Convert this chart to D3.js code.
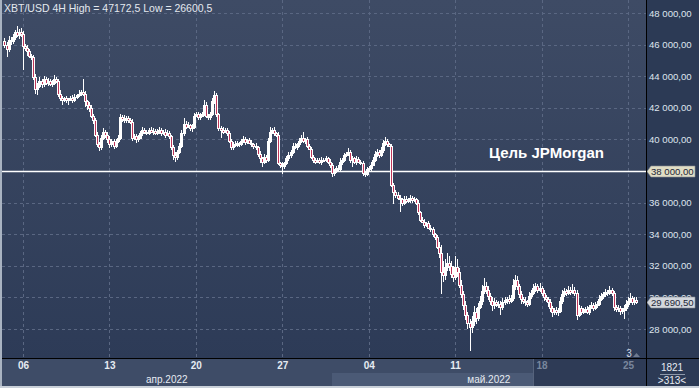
<!DOCTYPE html>
<meta charset="utf-8">
<style>
body { margin: 0; background: #2c3a55; }
svg { display: block; font-family: "Liberation Sans", Arial, sans-serif; }
</style>
<svg width="699" height="388"></svg>
<script src="https://d3js.org/d3.v7.min.js"></script>
<script>
// XBT/USD 4H candles, Apr 4 12:00 .. May 25 2022
var firstOpen = 46200;
var closes = [
  46000, 45700, 46300, 46200, 46500, 46800, 46600, 46800, 46700, 45900,
  45800, 45600, 45300, 45200, 43950, 43200, 43400, 43700, 43500, 43800,
  43600, 43700, 43500, 43600, 43800, 43700, 42900, 42600, 42500, 42600,
  42500, 42550, 42600, 42500, 42700, 42800, 42900, 43000, 42900, 42400,
  42200, 42000, 41500, 41200, 40300, 39700, 39500, 40100, 40500, 40300,
  40000, 39700, 39900, 39600, 39900, 40100, 41400, 41300, 41200, 41350,
  41250, 41100, 40100, 40200, 40000, 40100, 40400, 40600, 40500, 40400,
  40600, 40500, 40550, 40400, 40500, 40600, 40400, 40500, 40300, 40400,
  40200, 39500, 39000, 38900, 39200, 39600, 40400, 41000, 40800, 40900,
  40700, 40800, 41500, 41600, 41400, 41500, 41600, 42200, 41500, 41400,
  41600, 42400, 42800, 41600, 40700, 40600, 40500, 40600, 40400, 39900,
  39500, 39700, 39650, 39750, 39700, 39900, 40000, 39850, 39950, 39800,
  39700, 39600, 39500, 39100, 38800, 38600, 38900, 38700, 39900, 40500,
  40600, 40400, 40300, 38500, 38400, 38300, 38500, 38800, 39000, 39200,
  39600, 39500, 39700, 39900, 40100, 39900, 40000, 39600, 39400, 38900,
  38700, 38600, 38700, 38600, 38700, 38700, 38800, 38600, 38400, 37900,
  38000, 38200, 38100, 38600, 38700, 39000, 39100, 39200, 38700, 38800,
  38600, 38750, 38600, 38500, 37900, 37800, 38100, 38200, 38400, 38700,
  39100, 39200, 39000, 39300, 39800, 39900, 39700, 39600, 37100, 36700,
  36500, 36300, 36200, 36000, 36250, 36100, 36200, 36300, 36150, 36200,
  36000, 35400, 34900, 34800, 34600, 34700, 34400, 34300, 34000, 33800,
  33200, 32800, 31600, 31400, 31900, 32200, 32000, 31500, 31300, 31900,
  31600, 30800, 30200, 29500, 28900, 28400, 28100, 28500, 29100, 28700,
  29400, 29800, 30400, 30700, 30500, 30100, 29800, 29500, 29700, 29600,
  29600, 29400, 29700, 29850, 29900, 29800, 29950, 30800, 31100, 30700,
  30200, 29900, 29800, 29700, 29600, 30100, 30300, 30600, 30700, 30500,
  30600, 30300, 30000, 29900, 29700, 29300, 29100, 29200, 29050, 29150,
  29800, 30200, 30400, 30300, 30450, 30350, 30500, 30300, 28900, 29300,
  29100, 29200, 29250, 29100, 29400, 29500, 29350, 29500, 29600, 29900,
  30100, 30200, 30350, 30300, 30450, 30300, 29400, 29250, 29300, 29150,
  29200, 29300, 29600, 29800, 29950, 29700, 29850, 29690.5
];
// wick length above / below the body, USD
var wickUp = [
  200, 150, 250, 150, 200, 150, 370, 200, 250, 150,
  150, 200, 150, 100, 150, 200, 150, 250, 150, 200,
  150, 200, 150, 150, 300, 150, 150, 200, 150, 100,
  150, 100, 150, 200, 150, 100, 200, 150, 800, 150,
  100, 150, 150, 100, 150, 200, 150, 150, 200, 100,
  150, 200, 150, 150, 100, 150, 200, 150, 250, 150,
  150, 100, 200, 150, 150, 200, 150, 200, 150, 100,
  150, 200, 150, 100, 150, 200, 150, 100, 150, 200,
  150, 100, 150, 200, 150, 150, 200, 350, 150, 200,
  100, 150, 200, 150, 150, 200, 150, 300, 150, 100,
  150, 200, 250, 150, 100, 150, 200, 150, 100, 150,
  100, 150, 200, 150, 100, 150, 200, 150, 100, 150,
  150, 100, 150, 100, 150, 100, 150, 100, 200, 300,
  150, 200, 100, 150, 100, 150, 100, 150, 200, 150,
  150, 200, 100, 200, 150, 400, 100, 150, 100, 150,
  100, 150, 100, 150, 200, 100, 150, 100, 150, 100,
  150, 100, 150, 200, 150, 150, 100, 250, 100, 150,
  100, 200, 150, 100, 150, 100, 150, 100, 150, 200,
  150, 200, 150, 200, 150, 250, 150, 100, 100, 150,
  100, 150, 200, 100, 150, 150, 100, 150, 100, 150,
  100, 150, 100, 200, 150, 100, 150, 200, 150, 100,
  150, 300, 500, 700, 500, 600, 400, 300, 500, 700,
  500, 250, 300, 200, 300, 150, 250, 300, 350, 200,
  250, 300, 400, 500, 250, 200, 150, 200, 250, 150,
  200, 150, 250, 200, 150, 250, 200, 350, 300, 250,
  150, 200, 150, 200, 150, 250, 200, 250, 200, 150,
  300, 150, 200, 150, 100, 200, 150, 150, 200, 150,
  250, 300, 200, 150, 250, 200, 350, 150, 150, 200,
  150, 100, 150, 200, 150, 200, 150, 200, 150, 250,
  200, 150, 200, 150, 300, 150, 100, 150, 200, 150,
  150, 200, 250, 200, 300, 150, 200, 150
];
var wickDn = [
  200, 500, 150, 200, 150, 200, 150, 250, 200, 1500,
  200, 300, 150, 200, 200, 300, 400, 150, 250, 200,
  150, 200, 150, 200, 150, 150, 200, 150, 350, 150,
  200, 350, 150, 200, 150, 150, 100, 150, 150, 350,
  350, 250, 150, 200, 150, 200, 250, 150, 150, 200,
  200, 250, 150, 200, 150, 100, 150, 200, 150, 150,
  200, 150, 200, 150, 200, 150, 100, 200, 150, 150,
  150, 100, 200, 150, 100, 150, 200, 150, 200, 100,
  150, 200, 300, 350, 200, 150, 150, 200, 150, 100,
  150, 200, 150, 100, 200, 150, 100, 150, 150, 200,
  150, 100, 150, 200, 150, 500, 150, 100, 200, 150,
  200, 150, 100, 150, 200, 100, 150, 200, 150, 100,
  150, 200, 150, 200, 300, 350, 150, 200, 150, 100,
  150, 200, 150, 150, 200, 500, 150, 100, 150, 200,
  150, 100, 200, 150, 100, 150, 200, 150, 100, 150,
  200, 150, 100, 150, 200, 150, 100, 150, 200, 300,
  200, 150, 100, 150, 200, 150, 100, 150, 200, 450,
  150, 200, 100, 150, 200, 150, 100, 150, 200, 100,
  150, 200, 150, 100, 150, 200, 150, 100, 100, 800,
  200, 150, 800, 200, 150, 100, 150, 200, 150, 100,
  150, 200, 150, 100, 200, 150, 100, 150, 200, 150,
  150, 300, 1400, 400, 300, 200, 350, 250, 300, 200,
  300, 200, 250, 300, 300, 400, 1500, 350, 300, 400,
  200, 150, 250, 200, 300, 250, 300, 350, 250, 200,
  300, 500, 200, 150, 250, 200, 150, 200, 300, 200,
  250, 300, 200, 250, 200, 150, 200, 150, 250, 200,
  150, 200, 250, 200, 300, 200, 350, 200, 150, 200,
  150, 200, 150, 200, 150, 200, 150, 200, 300, 150,
  200, 150, 200, 150, 200, 150, 200, 150, 200, 150,
  150, 200, 150, 200, 150, 200, 250, 150, 200, 250,
  200, 550, 150, 200, 150, 200, 150, 100
];
var priceTicks = [28000, 30000, 32000, 34000, 36000, 38000, 40000, 42000, 44000, 46000, 48000];
var title = "XBT/USD 4H High = 47172,5 Low = 26600,5";
var targetLevel = 38000, targetLabel = "Цель JPMorgan";
var lastPrice = 29690.5;
var months = [
  { name: "апр.2022", start: new Date(2022, 3, 1) },
  { name: "май.2022", start: new Date(2022, 4, 1) }
];
var barsLabel = "1821", visLabel = ">313<", scrollLabel = "3";

var svg = d3.select("svg"),
    width = +svg.attr("width"),
    height = +svg.attr("height");

var plotR = 646, plotB = 359;

var t0 = new Date(2022, 3, 4, 12).getTime();
var candles = closes.map(function(c, i) {
  var o = i ? closes[i - 1] : firstOpen;
  return { t: new Date(t0 + i * 4 * 3600e3), o: o, c: c,
           h: Math.max(o, c) + wickUp[i], l: Math.min(o, c) - wickDn[i] };
});

var x = d3.scaleTime()
    .domain([new Date(2022, 3, 6), new Date(2022, 4, 25)])
    .range([23, 628]);
var y = d3.scaleLinear()
    .domain([28000, 48000])
    .range([329, 13]);

var weeks = d3.timeWednesday.range(new Date(2022, 3, 6), new Date(2022, 4, 26));
var ru = d3.formatLocale({ decimal: ",", thousands: " ", grouping: [3], currency: ["", ""] });
var fmt = ru.format(",.2f");

// background
var grad = svg.append("defs").append("linearGradient")
    .attr("id", "bg").attr("x1", 0).attr("y1", 0).attr("x2", 0).attr("y2", 1);
grad.append("stop").attr("offset", 0).attr("stop-color", "#3e4b65");
grad.append("stop").attr("offset", 1).attr("stop-color", "#2d3b57");
svg.select("defs").append("clipPath").attr("id", "clip")
  .append("rect").attr("x", 2).attr("y", 0).attr("width", plotR - 2).attr("height", plotB - 1);

svg.append("rect").attr("width", plotR).attr("height", plotB).attr("fill", "url(#bg)");

// grid
var grid = svg.append("g").attr("stroke", "#5a6782").attr("stroke-dasharray", "3,3");
grid.selectAll(".h").data(priceTicks).enter().append("line")
    .attr("x1", 2).attr("x2", plotR)
    .attr("y1", function(d) { return Math.round(y(d)) + 0.5; })
    .attr("y2", function(d) { return Math.round(y(d)) + 0.5; });
grid.selectAll(".v").data(weeks).enter().append("line")
    .attr("y1", 0).attr("y2", plotB)
    .attr("x1", function(d) { return Math.round(x(d)) + 0.5; })
    .attr("x2", function(d) { return Math.round(x(d)) + 0.5; });

// target line
svg.append("line")
    .attr("x1", 2).attr("x2", plotR)
    .attr("y1", Math.round(y(targetLevel)) + 0.5).attr("y2", Math.round(y(targetLevel)) + 0.5)
    .attr("stroke", "#fff").attr("stroke-width", 1.3);

// candles
var cg = svg.append("g").attr("clip-path", "url(#clip)");
var cd = cg.selectAll("g").data(candles).enter().append("g");
cd.append("line")
    .attr("x1", function(d) { return Math.round(x(d.t)) + 0.5; })
    .attr("x2", function(d) { return Math.round(x(d.t)) + 0.5; })
    .attr("y1", function(d) { return Math.round(y(d.h)); })
    .attr("y2", function(d) { return Math.round(y(d.l)); })
    .attr("stroke", "#fff");
cd.append("rect")
    .attr("x", function(d) { return Math.round(x(d.t)) - 0.5; })
    .attr("width", 2)
    .attr("y", function(d) { return Math.round(y(Math.max(d.o, d.c))) + 0.5; })
    .attr("height", function(d) { return Math.max(1, Math.round(y(Math.min(d.o, d.c))) - Math.round(y(Math.max(d.o, d.c)))); })
    .attr("fill", function(d) { return d.c < d.o ? "#c0365a" : "#fff"; })
    .attr("stroke", "#fff");

// title and target label
svg.append("text").attr("x", 4).attr("y", 12)
    .attr("fill", "#e3e8ef").attr("font-size", 10.5).text(title);
svg.append("text").attr("x", 489).attr("y", 158)
    .attr("fill", "#fff").attr("font-size", 15).attr("font-weight", "bold").text(targetLabel);

// scroll marker
svg.append("text").attr("x", 629).attr("y", 357).attr("text-anchor", "middle")
    .attr("fill", "#d0d7e2").attr("font-size", 10).text(scrollLabel);
svg.append("path").attr("d", "M633,357L636.5,353L640,357Z").attr("fill", "#6e7a90");

// right axis panel; the target level is shown by its tag only
svg.append("rect").attr("x", plotR).attr("y", 0).attr("width", width - plotR).attr("height", plotB).attr("fill", "#2c3a55");
var ya = svg.append("g").attr("transform", "translate(" + (plotR + 1) + ",0)")
    .call(d3.axisRight(y).tickValues(priceTicks.filter(function(d) { return d !== targetLevel; }))
      .tickFormat(fmt).tickSize(0).tickPadding(2));
ya.select(".domain").remove();
ya.selectAll("text").attr("fill", "#dfe5ee").attr("font-size", 9.6)
    .attr("font-family", "'Liberation Sans', Arial, sans-serif");

// price tags
function tag(v, fill) {
  var cy = Math.round(y(v)) + 0.5;
  svg.append("path")
      .attr("d", "M" + (plotR + 1) + "," + cy + "L" + (plotR + 5) + "," + (cy - 5.5) + "H" + (plotR + 49) +
            "V" + (cy + 5.5) + "H" + (plotR + 5) + "Z")
      .attr("fill", fill).attr("stroke", "#8a8f96").attr("stroke-width", 0.6);
  svg.append("text").attr("x", plotR + 5).attr("y", cy + 3.5)
      .attr("fill", "#1d2636").attr("font-size", 9.6).text(fmt(v));
}
tag(targetLevel, "#e0ddc5");
tag(lastPrice, "#d3d7dd");

// bottom axis panel
svg.append("rect").attr("x", 0).attr("y", plotB).attr("width", plotR).attr("height", height - plotB).attr("fill", "#3e4c67");
var may = months[1].start;
svg.append("rect").attr("x", Math.round(x(may))).attr("y", 373).attr("width", 533 - Math.round(x(may))).attr("height", 13)
    .attr("fill", "#4b5a76");
svg.append("rect").attr("x", 533).attr("y", plotB).attr("width", plotR - 533).attr("height", 27).attr("fill", "#2e3b56");
svg.append("line").attr("x1", 533.5).attr("x2", 533.5).attr("y1", plotB).attr("y2", 386).attr("stroke", "#56637c");

var xa = svg.append("g").attr("transform", "translate(0," + plotB + ")")
    .call(d3.axisBottom(x).tickValues(weeks).tickFormat(d3.timeFormat("%d")).tickSize(0).tickPadding(3));
xa.select(".domain").remove();
xa.selectAll("text").attr("font-size", 10).attr("font-weight", "bold")
    .attr("font-family", "'Liberation Sans', Arial, sans-serif")
    .attr("fill", function(d) { return x(d) > 533 ? "#7a879d" : "#e6ebf2"; });

// month labels centred on their visible span
months.forEach(function(m, i) {
  var a = Math.max(2, x(m.start));
  var b = i < months.length - 1 ? x(months[i + 1].start) : plotR;
  svg.append("text").attr("x", (a + b) / 2).attr("y", 383).attr("text-anchor", "middle")
      .attr("fill", "#e6ebf2").attr("font-size", 10).text(m.name);
});

// bottom right counter
svg.append("rect").attr("x", plotR).attr("y", plotB).attr("width", width - plotR).attr("height", 27).attr("fill", "#2c3a55");
svg.append("text").attr("x", 672).attr("y", 371).attr("text-anchor", "middle")
    .attr("fill", "#e6ebf2").attr("font-size", 10).text(barsLabel);
svg.append("line").attr("x1", 660).attr("x2", 685).attr("y1", 374.5).attr("y2", 374.5).attr("stroke", "#8d98aa");
svg.append("text").attr("x", 672).attr("y", 384).attr("text-anchor", "middle")
    .attr("fill", "#e6ebf2").attr("font-size", 10).text(visLabel);

// frame
svg.append("line").attr("x1", 0).attr("x2", width).attr("y1", plotB - 0.5).attr("y2", plotB - 0.5).attr("stroke", "#000");
svg.append("line").attr("x1", plotR + 0.5).attr("x2", plotR + 0.5).attr("y1", 0).attr("y2", 386).attr("stroke", "#000");
svg.append("rect").attr("x", 0).attr("y", 0).attr("width", 2).attr("height", height).attr("fill", "#a9b3c1");
svg.append("rect").attr("x", 0).attr("y", 386).attr("width", width).attr("height", 2).attr("fill", "#c9d0d9");
</script>
